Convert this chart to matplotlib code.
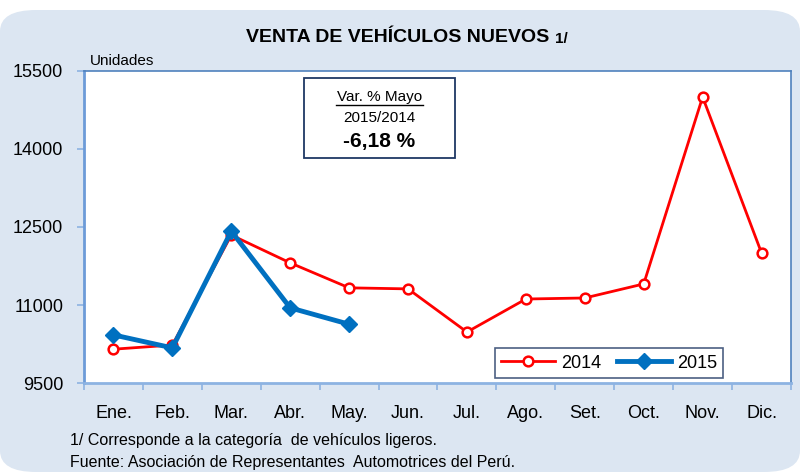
import matplotlib
matplotlib.use('Agg')
import matplotlib.pyplot as plt
from matplotlib.patches import FancyBboxPatch
import numpy as np

plt.rcParams['font.family'] = ['Liberation Sans', 'DejaVu Sans']

meses = ['Ene.', 'Feb.', 'Mar.', 'Abr.', 'May.', 'Jun.', 'Jul.', 'Ago.', 'Set.', 'Oct.', 'Nov.', 'Dic.']
ventas_2014 = [10150, 10230, 12345, 11810, 11330, 11310, 10480, 11115, 11135, 11405, 15000, 12000]
ventas_2015 = [10425, 10175, 12420, 10945, 10630]
var_mayo = (ventas_2015[4] / ventas_2014[4] - 1) * 100
yticks = [9500, 11000, 12500, 14000, 15500]

fig = plt.figure(figsize=(8.06, 4.72), dpi=100)
fig.patch.set_facecolor('white')

# panel de fondo con esquinas redondeadas
W, H = 806, 472
bg = FancyBboxPatch((0 / W, 0 / H), 800 / W, 462 / H,
                    boxstyle='round,pad=0,rounding_size=0.045',
                    transform=fig.transFigure, facecolor='#DCE6F2',
                    edgecolor='none', zorder=-10)
fig.patches.append(bg)

ax = fig.add_axes([84 / W, 89 / H, 707 / W, 312 / H])
ax.set_facecolor('white')
x = np.arange(len(meses))

ax.plot(x, ventas_2014, color='#FF0000', lw=2, marker='o', ms=7,
        mfc='white', mec='#FF0000', mew=1.8, label='2014', zorder=3)
ax.plot(x[:len(ventas_2015)], ventas_2015, color='#0070C0', lw=3.5,
        marker='D', ms=8, mfc='#0070C0', mec='#0070C0', label='2015', zorder=4)

ax.set_xlim(-0.5, 11.5)
ax.set_ylim(9500, 15500)
ax.set_yticks(yticks)
ax.set_yticklabels([str(v) for v in yticks], fontsize=13)
ax.set_xticks(x)
ax.set_xticklabels(meses, fontsize=13)
ax.set_xticks(np.arange(-0.5, 12, 1), minor=True)
ax.tick_params(axis='x', which='major', length=0, pad=16)
ax.tick_params(axis='x', which='minor', length=5, color='#8DB3E2', width=1.2)
ax.tick_params(axis='y', length=5, color='#8DB3E2', width=1.2, pad=10)

for s in ax.spines.values():
    s.set_color('#4F81BD')
    s.set_linewidth(1.2)
ax.spines['left'].set_color('#6C9BD8')
ax.spines['bottom'].set_color('#8DB3E2')
ax.spines['left'].set_linewidth(2)
ax.spines['bottom'].set_linewidth(2)

leg = ax.legend(loc='lower right', bbox_to_anchor=(0.904, 0.016), ncol=2,
                fontsize=13, frameon=True, fancybox=False, handlelength=3.0,
                columnspacing=0.9, handletextpad=0.3, borderpad=0.35,
                borderaxespad=0)
leg.get_frame().set_edgecolor('#1F3864')
leg.get_frame().set_linewidth(1.2)

# recuadro de variacion
box = FancyBboxPatch((304 / W, 314 / H), 151 / W, 80 / H, boxstyle='square,pad=0',
                     transform=fig.transFigure, facecolor='white',
                     edgecolor='#1F3864', lw=1.3, zorder=5)
fig.patches.append(box)
fig.text(379.5 / W, (H - 97) / H, 'Var. % Mayo', ha='center', va='center',
         fontsize=11, zorder=6)
fig.lines.append(plt.Line2D([336 / W, 423 / W], [(H - 105) / H] * 2,
                            transform=fig.transFigure, color='black', lw=1, zorder=6))
fig.text(379.5 / W, (H - 118) / H, '2015/2014', ha='center', va='center',
         fontsize=11, zorder=6)
fig.text(379.5 / W, (H - 142) / H, ('%.2f %%' % var_mayo).replace('.', ','),
         ha='center', va='center', fontsize=15, fontweight='bold', zorder=6)

fig.text(549 / W, (H - 38) / H, 'VENTA DE VEHÍCULOS NUEVOS', ha='right',
         va='center', fontsize=14, fontweight='bold')
fig.text(555 / W, (H - 39) / H, '1/', ha='left', va='center', fontsize=11,
         fontweight='bold')
fig.text(90 / W, (H - 61) / H, 'Unidades', ha='left', va='center', fontsize=11)
fig.text(70 / W, (H - 440) / H, '1/ Corresponde a la categoría  de vehículos ligeros.',
         ha='left', va='center', fontsize=11.5)
fig.text(70 / W, (H - 463) / H, 'Fuente: Asociación de Representantes  Automotrices del Perú.',
         ha='left', va='center', fontsize=11.5)

plt.savefig('out.png', dpi=100, facecolor=fig.get_facecolor())
plt.close()
